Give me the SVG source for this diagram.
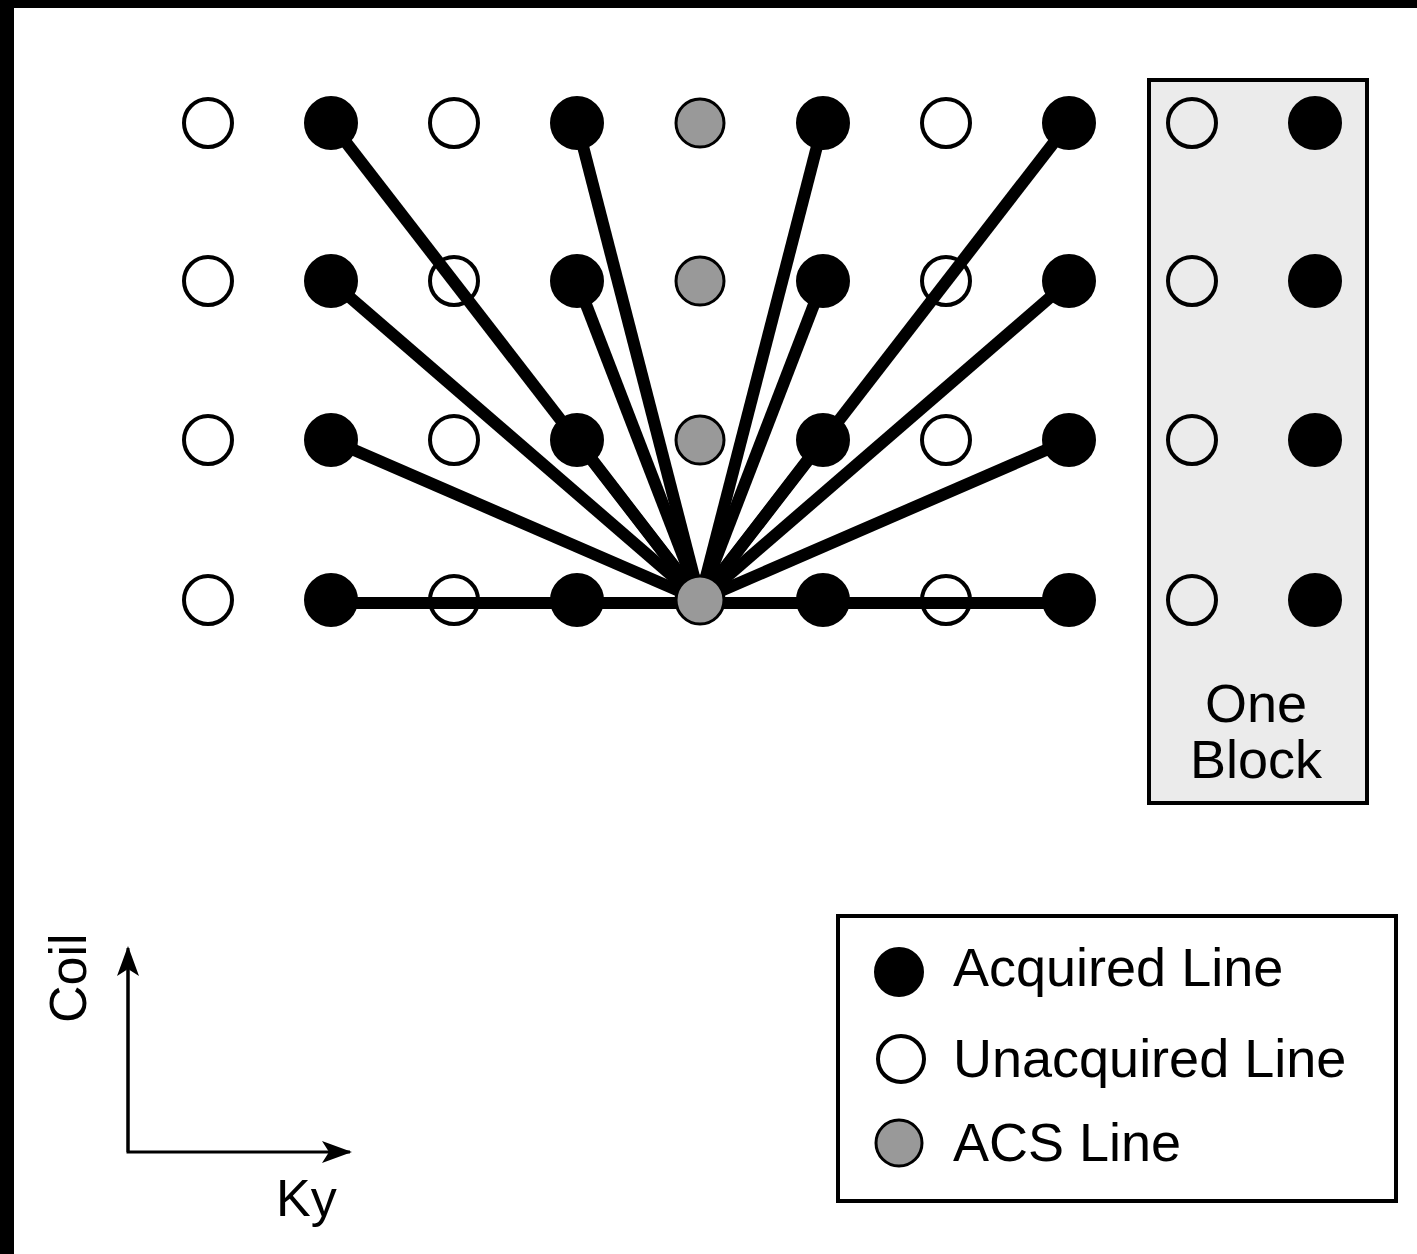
<svg xmlns="http://www.w3.org/2000/svg" width="1417" height="1254" viewBox="0 0 1417 1254">
<style>
.open{fill:#fff;stroke:#000;stroke-width:4}
.open2{fill:#ebebeb;stroke:#000;stroke-width:4}
.acq{fill:#000;stroke:#000;stroke-width:2}
.acs{fill:#999;stroke:#000;stroke-width:3}
.conn line{stroke:#000;stroke-width:12;stroke-linecap:butt}
.lbl{font-family:"Liberation Sans",Arial,sans-serif;font-size:54px;fill:#000}
.axis{stroke:#000;stroke-width:3;fill:none}
</style>
<defs>
<marker id="arr" markerWidth="30" markerHeight="22" refX="28" refY="11" orient="auto" markerUnits="userSpaceOnUse">
<path d="M0,0 L30,11 L0,22 L7,11 Z" fill="#000"/>
</marker>
</defs>
<rect x="0" y="0" width="1417" height="1254" fill="#fff"/>
<rect x="0" y="0" width="1417" height="8" fill="#000"/>
<rect x="0" y="0" width="14" height="1254" fill="#000"/>

<g id="block">
<rect x="1149" y="80" width="218" height="723" fill="#ebebeb" stroke="#000" stroke-width="4"/>
<text class="lbl" x="1256" y="722" text-anchor="middle">One</text>
<text class="lbl" x="1256" y="778" text-anchor="middle">Block</text>
</g>

<g id="unacquired">
<circle class="open" cx="208" cy="123" r="24"/>
<circle class="open" cx="208" cy="281" r="24"/>
<circle class="open" cx="208" cy="440" r="24"/>
<circle class="open" cx="208" cy="600" r="24"/>
<circle class="open" cx="454" cy="123" r="24"/>
<circle class="open" cx="454" cy="281" r="24"/>
<circle class="open" cx="454" cy="440" r="24"/>
<circle class="open" cx="454" cy="600" r="24"/>
<circle class="open" cx="946" cy="123" r="24"/>
<circle class="open" cx="946" cy="281" r="24"/>
<circle class="open" cx="946" cy="440" r="24"/>
<circle class="open" cx="946" cy="600" r="24"/>
<circle class="open2" cx="1192" cy="123" r="24"/>
<circle class="open2" cx="1192" cy="281" r="24"/>
<circle class="open2" cx="1192" cy="440" r="24"/>
<circle class="open2" cx="1192" cy="600" r="24"/>
</g>

<g id="acquired">
<circle class="acq" cx="331" cy="123" r="26"/>
<circle class="acq" cx="331" cy="281" r="26"/>
<circle class="acq" cx="331" cy="440" r="26"/>
<circle class="acq" cx="331" cy="600" r="26"/>
<circle class="acq" cx="577" cy="123" r="26"/>
<circle class="acq" cx="577" cy="281" r="26"/>
<circle class="acq" cx="577" cy="440" r="26"/>
<circle class="acq" cx="577" cy="600" r="26"/>
<circle class="acq" cx="823" cy="123" r="26"/>
<circle class="acq" cx="823" cy="281" r="26"/>
<circle class="acq" cx="823" cy="440" r="26"/>
<circle class="acq" cx="823" cy="600" r="26"/>
<circle class="acq" cx="1069" cy="123" r="26"/>
<circle class="acq" cx="1069" cy="281" r="26"/>
<circle class="acq" cx="1069" cy="440" r="26"/>
<circle class="acq" cx="1069" cy="600" r="26"/>
<circle class="acq" cx="1315" cy="123" r="26"/>
<circle class="acq" cx="1315" cy="281" r="26"/>
<circle class="acq" cx="1315" cy="440" r="26"/>
<circle class="acq" cx="1315" cy="600" r="26"/>
</g>

<g id="connectors" class="conn">
<line x1="331" y1="123" x2="700" y2="600"/>
<line x1="331" y1="281" x2="700" y2="600"/>
<line x1="331" y1="440" x2="700" y2="600"/>
<line x1="331" y1="603" x2="1069" y2="603"/>
<line x1="577" y1="123" x2="700" y2="600"/>
<line x1="577" y1="281" x2="700" y2="600"/>
<line x1="577" y1="440" x2="700" y2="600"/>
<line x1="823" y1="123" x2="700" y2="600"/>
<line x1="823" y1="281" x2="700" y2="600"/>
<line x1="823" y1="440" x2="700" y2="600"/>
<line x1="1069" y1="123" x2="700" y2="600"/>
<line x1="1069" y1="281" x2="700" y2="600"/>
<line x1="1069" y1="440" x2="700" y2="600"/>
</g>

<g id="acs">
<circle class="acs" cx="700" cy="123" r="24"/>
<circle class="acs" cx="700" cy="281" r="24"/>
<circle class="acs" cx="700" cy="440" r="24"/>
<circle class="acs" cx="700" cy="600" r="24"/>
</g>

<g id="axes">
<polyline class="axis" points="128,970 128,1152 350,1152" marker-end="url(#arr)"/>
<line class="axis" x1="128" y1="1152" x2="128" y2="948" marker-end="url(#arr)"/>
<text class="lbl" transform="translate(86,1023) rotate(-90)" style="font-size:52px">Coil</text>
<text class="lbl" x="276" y="1216" style="font-size:52px">Ky</text>
</g>

<g id="legend">
<rect x="838" y="916" width="558" height="285" fill="#fff" stroke="#000" stroke-width="4"/>
<circle class="acq" cx="899" cy="972" r="24"/>
<text class="lbl" x="953" y="986">Acquired Line</text>
<circle class="open" cx="901" cy="1059" r="23"/>
<text class="lbl" x="953" y="1077">Unacquired Line</text>
<circle class="acs" cx="899" cy="1143" r="23"/>
<text class="lbl" x="953" y="1161">ACS Line</text>
</g>
</svg>
